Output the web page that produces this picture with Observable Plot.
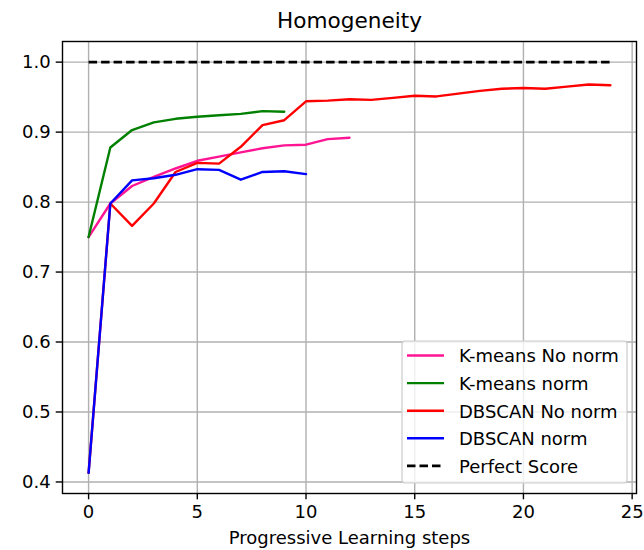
<!DOCTYPE html>
<html>
<head>
<meta charset="utf-8">
<script src="https://cdn.jsdelivr.net/npm/d3@7"></script>
<script src="https://cdn.jsdelivr.net/npm/@observablehq/plot@0.6"></script>
<style>
  body { margin: 0; background: #fff; }
  svg { display: block; }
</style>
</head>
<body>
<div id="chart"></div>
<script>
// Homogeneity score per progressive learning step, one array per method
const kmeansNoNorm = [0.750, 0.798, 0.823, 0.836, 0.848, 0.859, 0.865, 0.871, 0.877, 0.881, 0.882, 0.890, 0.892];
const kmeansNorm   = [0.750, 0.878, 0.903, 0.914, 0.919, 0.922, 0.924, 0.926, 0.930, 0.929];
const dbscanNoNorm = [0.413, 0.798, 0.766, 0.798, 0.843, 0.856, 0.855, 0.879, 0.910, 0.917, 0.944, 0.945, 0.947,
                      0.946, 0.949, 0.952, 0.951, 0.955, 0.959, 0.962, 0.963, 0.962, 0.965, 0.968, 0.967];
const dbscanNorm   = [0.413, 0.798, 0.831, 0.834, 0.839, 0.847, 0.846, 0.832, 0.843, 0.844, 0.840];
const perfectScore = 1.0;
const perfectSteps = 25;

const seriesNames  = ["K-means No norm", "K-means norm", "DBSCAN No norm", "DBSCAN norm"];
const seriesColors = ["#ff1493", "#008000", "#ff0000", "#0000ff"];
const seriesValues = [kmeansNoNorm, kmeansNorm, dbscanNoNorm, dbscanNorm];
const perfectName  = "Perfect Score";

const xTicks = [0, 5, 10, 15, 20, 25];
const yTicks = [0.4, 0.5, 0.6, 0.7, 0.8, 0.9, 1.0];
const titleText = "Homogeneity";
const xLabelText = "Progressive Learning steps";

const FONT = "DejaVu Sans";
const LINE_W = 2.4;
const DASH_W = 2.8;
const DASH = "8.5,4";

const rows = seriesNames.flatMap((name, k) =>
  seriesValues[k].map((v, i) => ({series: name, step: i, value: v})));
const perfectRows = d3.range(perfectSteps).map(i => ({step: i, value: perfectScore}));

const chart = Plot.plot({
  width: 644,
  height: 550,
  marginLeft: 62,
  marginRight: 8,
  marginTop: 41,
  marginBottom: 57,
  style: {fontFamily: FONT, fontSize: "18px", background: "white", color: "black"},
  x: {domain: [-1.2, 25.2]},
  y: {domain: [0.3835, 1.0295]},
  marks: [
    Plot.gridX(xTicks, {stroke: "#b0b0b0", strokeOpacity: 1, strokeWidth: 1.4}),
    Plot.gridY(yTicks, {stroke: "#b0b0b0", strokeOpacity: 1, strokeWidth: 1.4}),
    ...seriesNames.map((name, k) =>
      Plot.line(rows.filter(r => r.series === name), {
        x: "step", y: "value", stroke: seriesColors[k], strokeWidth: LINE_W
      })),
    Plot.line(perfectRows, {
      x: "step", y: "value", stroke: "black", strokeWidth: DASH_W,
      strokeDasharray: DASH, strokeLinecap: "butt"
    }),
    Plot.frame({stroke: "black", strokeWidth: 1.4}),
    Plot.axisX(xTicks, {tickSize: 6.3, tickPadding: 5.5, strokeWidth: 1.4, label: null, tickFormat: d => String(d)}),
    Plot.axisY(yTicks, {tickSize: 6.3, tickPadding: 5.5, strokeWidth: 1.4, label: null, tickFormat: d3.format(".1f")}),
    Plot.text([titleText], {frameAnchor: "top", lineAnchor: "middle", dy: -20.9, fontSize: 21.6}),
    Plot.text([xLabelText], {frameAnchor: "bottom", lineAnchor: "middle", dy: 45, fontSize: 18})
  ]
});

// Legend box in the lower-right corner of the plot area
const legendItems = seriesNames.map((name, k) => ({name, color: seriesColors[k], dash: null}))
  .concat([{name: perfectName, color: "black", dash: DASH}]);

const svg = d3.select(chart);
const lg = svg.append("g")
  .attr("font-family", FONT).attr("font-size", 18).attr("text-anchor", "start");
lg.append("rect")
  .attr("x", 402).attr("y", 341).attr("width", 225).attr("height", 142)
  .attr("rx", 3).attr("fill", "white").attr("fill-opacity", 0.8)
  .attr("stroke", "#cccccc").attr("stroke-width", 1.2);
legendItems.forEach((item, i) => {
  const y = 355.5 + i * 27.6;
  lg.append("line")
    .attr("x1", 407).attr("x2", 444).attr("y1", y).attr("y2", y)
    .attr("stroke", item.color)
    .attr("stroke-width", item.dash ? DASH_W : LINE_W)
    .attr("stroke-dasharray", item.dash);
  lg.append("text")
    .attr("x", 459).attr("y", y).attr("dy", "0.38em")
    .attr("fill", "black")
    .text(item.name);
});

document.getElementById("chart").appendChild(chart);
</script>
</body>
</html>
